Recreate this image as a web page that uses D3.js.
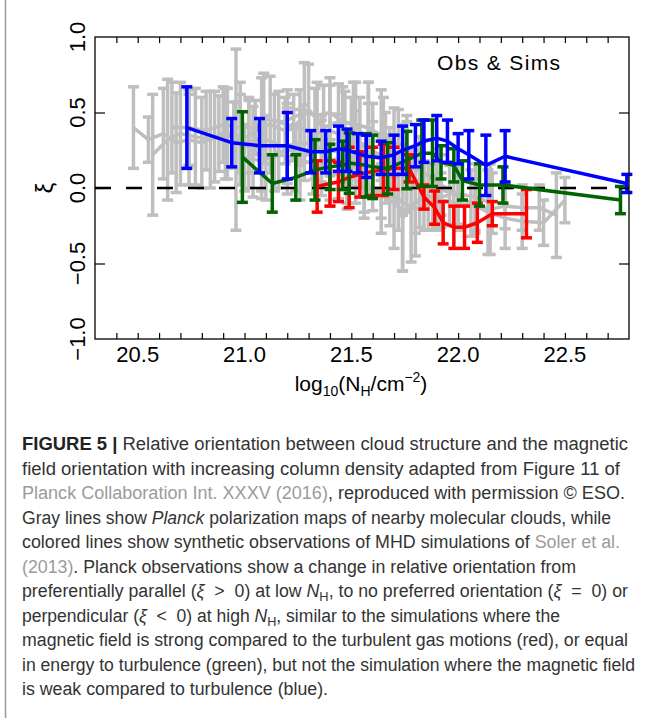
<!DOCTYPE html>
<html>
<head>
<meta charset="utf-8">
<script src="https://cdn.jsdelivr.net/npm/d3@7"></script>
<style>
body { margin: 0; background: #fff; }
svg { display: block; }
text { white-space: pre; }
</style>
</head>
<body>
<svg width="654" height="718"></svg>
<script>
// ---- data ----
// simulations (Soler et al. 2013)
var blueX   = [20.73,20.94,21.07,21.20,21.31,21.38,21.44,21.48,21.53,21.57,21.64,21.70,21.74,21.80,21.84,21.90,21.95,22.00,22.05,22.13,22.22,22.79];
var blueXi  = [0.40,0.30,0.28,0.28,0.24,0.24,0.26,0.25,0.23,0.21,0.20,0.22,0.25,0.28,0.31,0.33,0.31,0.26,0.22,0.15,0.21,0.03];
var blueErr = [0.27,0.16,0.18,0.22,0.14,0.14,0.15,0.14,0.13,0.14,0.11,0.13,0.16,0.14,0.14,0.15,0.14,0.10,0.16,0.20,0.17,0.06];

var greenX   = [20.99,21.13,21.24,21.33,21.40,21.46,21.49,21.57,21.60,21.67,21.76,21.83,21.88,21.92,21.98,22.02,22.10,22.21,22.76];
var greenXi  = [0.205,0.03,0.07,0.12,0.14,0.15,0.165,0.15,0.14,0.13,0.185,0.23,0.23,0.17,0.15,0.05,0.02,0.02,-0.08];
var greenErr = [0.30,0.19,0.15,0.20,0.15,0.16,0.20,0.21,0.21,0.17,0.19,0.22,0.22,0.11,0.11,0.13,0.14,0.12,0.09];

var redX   = [21.34,21.40,21.44,21.49,21.54,21.60,21.65,21.70,21.77,21.84,21.89,21.93,21.98,22.03,22.09,22.16,22.32];
var redXi  = [0.01,0.03,0.04,0.07,0.09,0.11,0.12,0.13,0.13,-0.06,-0.13,-0.23,-0.26,-0.26,-0.23,-0.17,-0.17];
var redErr = [0.17,0.15,0.13,0.20,0.15,0.16,0.17,0.14,0.09,0.08,0.11,0.14,0.14,0.14,0.13,0.08,0.16];

// Planck observations of nearby clouds (gray)
var grayX = [
  [20.48,20.55,20.62,20.68,20.74,20.80,20.86,20.92,20.98,21.04,21.10],
  [20.57,20.64,20.70,20.77,20.84,20.91,20.96,21.02,21.08,21.14,21.20,21.26],
  [20.66,20.74,20.82,20.90,20.98,21.05,21.12,21.19,21.26,21.33,21.40,21.47,21.54,21.60],
  [20.88,20.95,21.02,21.09,21.16,21.23,21.30,21.37,21.44,21.51,21.58,21.65,21.72],
  [21.00,21.08,21.16,21.24,21.32,21.40,21.48,21.56,21.64,21.72,21.80,21.88],
  [21.20,21.28,21.36,21.44,21.52,21.60,21.68,21.76,21.84,21.92,22.00,22.08,22.16],
  [21.36,21.44,21.52,21.60,21.68,21.74,21.80,21.86,21.92,22.00,22.08,22.15,22.22,22.30,22.38,22.46],
  [21.50,21.58,21.66,21.74,21.82,21.90,21.98,22.06,22.14,22.22,22.30,22.40,22.50],
  [21.20,21.28,21.34,21.40,21.46,21.52,21.58,21.64,21.70,21.76],
  [21.40,21.48,21.56,21.64,21.70,21.74,21.78,21.84,21.90,21.96]
];
var grayXi = [
  [0.40,0.32,0.36,0.30,0.32,0.30,0.34,0.36,0.32,0.24,0.20],
  [0.22,0.32,0.36,0.34,0.32,0.36,0.32,0.30,0.33,0.30,0.26,0.22],
  [0.40,0.40,0.38,0.42,0.40,0.40,0.42,0.38,0.40,0.36,0.38,0.34,0.30,0.26],
  [0.36,0.35,0.34,0.46,0.44,0.40,0.52,0.40,0.44,0.42,0.40,0.30,0.22],
  [0.20,0.18,0.22,0.20,0.16,0.12,0.08,0.02,-0.02,-0.08,-0.14,-0.10],
  [0.28,0.30,0.26,0.24,0.26,0.22,0.20,0.14,0.10,0.02,-0.04,-0.06,-0.10],
  [0.20,0.18,0.15,0.10,0.05,-0.20,-0.10,-0.06,-0.08,-0.10,-0.12,-0.14,-0.12,-0.13,-0.13,-0.18],
  [0.30,0.26,0.20,0.12,0.04,0.00,-0.04,-0.10,-0.16,-0.20,-0.22,-0.23,-0.08],
  [0.45,0.50,0.48,0.50,0.44,0.42,0.40,0.35,0.30,0.28],
  [0.10,0.08,0.02,-0.05,-0.10,-0.15,-0.12,-0.05,-0.06,-0.05]
];
var grayErr = [
  [0.27,0.15,0.30,0.33,0.30,0.30,0.30,0.30,0.30,0.30,0.28],
  [0.40,0.40,0.34,0.32,0.32,0.30,0.60,0.30,0.40,0.32,0.30,0.30],
  [0.30,0.25,0.26,0.25,0.30,0.18,0.32,0.22,0.25,0.30,0.30,0.30,0.30,0.30],
  [0.25,0.22,0.24,0.30,0.20,0.22,0.30,0.28,0.25,0.28,0.30,0.30,0.30],
  [0.22,0.20,0.22,0.22,0.20,0.20,0.18,0.18,0.18,0.20,0.16,0.18],
  [0.25,0.25,0.22,0.25,0.25,0.22,0.20,0.30,0.22,0.20,0.20,0.22,0.20],
  [0.25,0.25,0.25,0.25,0.30,0.35,0.35,0.22,0.18,0.18,0.18,0.30,0.15,0.15,0.15,0.28],
  [0.30,0.30,0.30,0.30,0.30,0.26,0.20,0.22,0.28,0.20,0.18,0.15,0.15],
  [0.20,0.33,0.22,0.23,0.23,0.28,0.30,0.30,0.23,0.20],
  [0.22,0.22,0.22,0.25,0.30,0.40,0.37,0.23,0.22,0.20]
];

var xTickLabels = [20.5, 21.0, 21.5, 22.0, 22.5];
var yTickLabels = [-1.0, -0.5, 0.0, 0.5, 1.0];

// caption, one entry per printed line: [text, style]
var caption = [
  [["FIGURE 5 |","b"],[" Relative orientation between cloud structure and the magnetic"]],
  [["field orientation with increasing column density adapted from Figure 11 of"]],
  [["Planck Collaboration Int. XXXV (2016)","l"],[", reproduced with permission © ESO."]],
  [["Gray lines show "],["Planck","i"],[" polarization maps of nearby molecular clouds, while"]],
  [["colored lines show synthetic observations of MHD simulations of "],["Soler et al.","l"]],
  [["(2013)","l"],[". Planck observations show a change in relative orientation from"]],
  [["preferentially parallel ("],["ξ","i"],["  >  0) at low "],["N","i"],["H","sub"],[", to no preferred orientation ("],["ξ","i"],["  =  0) or"]],
  [["perpendicular ("],["ξ","i"],["  <  0) at high "],["N","i"],["H","sub"],[", similar to the simulations where the"]],
  [["magnetic field is strong compared to the turbulent gas motions (red), or equal"]],
  [["in energy to turbulence (green), but not the simulation where the magnetic field"]],
  [["is weak compared to turbulence (blue)."]]
];
var captionEnds = [628,620,625,611,620,576,628,560,628,635,328];

// ---- layout ----
var svg = d3.select("svg");
var mLeft = 95, mRight = 629, mTop = 37, mBottom = 339;

var x = d3.scaleLinear().domain([20.3, 22.8]).range([mLeft, mRight]);
var y = d3.scaleLinear().domain([-1, 1]).range([mBottom, mTop]);

var chartFont = "'Liberation Sans', Arial, Helvetica, sans-serif";

function drawSeries(xs, ys, es, color) {
  var g = svg.append("g");
  var pts = d3.zip(xs, ys, es);
  g.append("path")
    .datum(pts)
    .attr("d", d3.line().x(function(d){ return x(d[0]); }).y(function(d){ return y(d[1]); }))
    .style("fill", "none")
    .style("stroke", color)
    .style("stroke-width", 3.5)
    .style("stroke-linejoin", "round");
  var bars = g.selectAll("g.bar").data(pts).enter().append("g");
  bars.append("line")
    .attr("x1", function(d){ return x(d[0]); })
    .attr("x2", function(d){ return x(d[0]); })
    .attr("y1", function(d){ return y(d[1] + d[2]); })
    .attr("y2", function(d){ return y(d[1] - d[2]); });
  bars.append("line")
    .attr("x1", function(d){ return x(d[0]) - 5.5; })
    .attr("x2", function(d){ return x(d[0]) + 5.5; })
    .attr("y1", function(d){ return y(d[1] + d[2]); })
    .attr("y2", function(d){ return y(d[1] + d[2]); });
  bars.append("line")
    .attr("x1", function(d){ return x(d[0]) - 5.5; })
    .attr("x2", function(d){ return x(d[0]) + 5.5; })
    .attr("y1", function(d){ return y(d[1] - d[2]); })
    .attr("y2", function(d){ return y(d[1] - d[2]); });
  bars.selectAll("line")
    .style("stroke", color)
    .style("stroke-width", 3.5);
}

// left rule beside the figure
svg.append("line")
  .attr("x1", 5.5).attr("x2", 5.5).attr("y1", 0).attr("y2", 718)
  .style("stroke", "#9a9a9a").style("stroke-width", 1.5);

// gray observations
for (var i = 0; i < grayX.length; i++) {
  drawSeries(grayX[i], grayXi[i], grayErr[i], "#bfbfbf");
}

// zero line
svg.append("line")
  .attr("x1", x(20.3)).attr("x2", x(22.8)).attr("y1", y(0)).attr("y2", y(0))
  .style("stroke", "#000").style("stroke-width", 2.5)
  .style("stroke-dasharray", "16,15");

drawSeries(redX, redXi, redErr, "#ff0000");
drawSeries(greenX, greenXi, greenErr, "#006400");
drawSeries(blueX, blueXi, blueErr, "#0000ff");

// axes: ticks point inward
var minor = d3.range(20.4, 22.75, 0.1);
svg.append("g").attr("transform", "translate(0," + mBottom + ")")
  .call(d3.axisBottom(x).tickValues(minor).tickSizeInner(-6).tickSizeOuter(0).tickFormat(""));
svg.append("g").attr("transform", "translate(0," + mTop + ")")
  .call(d3.axisTop(x).tickValues(minor).tickSizeInner(-6).tickSizeOuter(0).tickFormat(""));
svg.append("g").attr("transform", "translate(" + mLeft + ",0)")
  .call(d3.axisLeft(y).tickValues([-0.5, 0, 0.5]).tickSizeInner(-10).tickSizeOuter(0).tickFormat(""));
svg.append("g").attr("transform", "translate(" + mRight + ",0)")
  .call(d3.axisRight(y).tickValues([-0.5, 0, 0.5]).tickSizeInner(-10).tickSizeOuter(0).tickFormat(""));
svg.selectAll(".domain").remove();
svg.selectAll(".tick line").style("stroke", "#000").style("stroke-width", 1.2);

svg.append("rect")
  .attr("x", mLeft).attr("y", mTop).attr("width", mRight - mLeft).attr("height", mBottom - mTop)
  .style("fill", "none").style("stroke", "#000").style("stroke-width", 1.3);

// tick labels
svg.selectAll("text.xt").data(xTickLabels).enter().append("text")
  .attr("x", function(d){ return x(d); })
  .attr("y", 362)
  .attr("text-anchor", "middle")
  .style("font-family", chartFont).style("font-size", "22px")
  .text(function(d){ return d.toFixed(1); });

svg.selectAll("text.yt").data(yTickLabels).enter().append("text")
  .attr("transform", function(d){ return "translate(85," + y(d) + ") rotate(-90)"; })
  .attr("text-anchor", "middle")
  .style("font-family", chartFont).style("font-size", "22px")
  .text(function(d){ return d.toFixed(1).replace("-", "\u2212"); });

// axis titles
svg.append("text")
  .attr("transform", "translate(53," + y(0) + ") rotate(-90)")
  .attr("text-anchor", "middle")
  .style("font-family", chartFont).style("font-size", "24px")
  .text("ξ");

var xt = svg.append("text")
  .attr("x", 361).attr("y", 391)
  .attr("text-anchor", "middle")
  .style("font-family", chartFont).style("font-size", "21px");
xt.append("tspan").text("log");
xt.append("tspan").attr("dy", 5).style("font-size", "14px").text("10");
xt.append("tspan").attr("dy", -5).text("(N");
xt.append("tspan").attr("dy", 5).style("font-size", "14px").text("H");
xt.append("tspan").attr("dy", -5).text("/cm");
xt.append("tspan").attr("dy", -9).style("font-size", "14px").text("\u22122");
xt.append("tspan").attr("dy", 9).text(")");

svg.append("text")
  .attr("x", 437).attr("y", 70)
  .attr("textLength", 123).attr("lengthAdjust", "spacing")
  .style("font-family", chartFont).style("font-size", "21px")
  .text("Obs & Sims");

// caption
var capFont = "'Liberation Sans Narrow', 'Arial Narrow', 'Liberation Sans', Arial, sans-serif";
caption.forEach(function(line, k) {
  var t = svg.append("text")
    .attr("x", 22).attr("y", 450 + k * 24.5)
    .attr("textLength", captionEnds[k] - 22)
    .attr("lengthAdjust", "spacingAndGlyphs")
    .style("font-family", capFont).style("font-size", "18px")
    .style("fill", "#333");
  line.forEach(function(seg) {
    var s = t.append("tspan").text(seg[0]);
    if (seg[1] === "b") s.style("font-weight", "bold").style("fill", "#222");
    if (seg[1] === "l") s.style("fill", "#9b9b9b");
    if (seg[1] === "i") s.style("font-style", "italic");
    if (seg[1] === "sub") {
      s.attr("dy", 4).style("font-size", "13px");
    }
  });
  // undo the subscript shift for the text that follows it
  t.selectAll("tspan").each(function(d, j) {
    if (j > 0 && line[j - 1][1] === "sub") d3.select(this).attr("dy", -4);
  });
});
</script>
</body>
</html>
